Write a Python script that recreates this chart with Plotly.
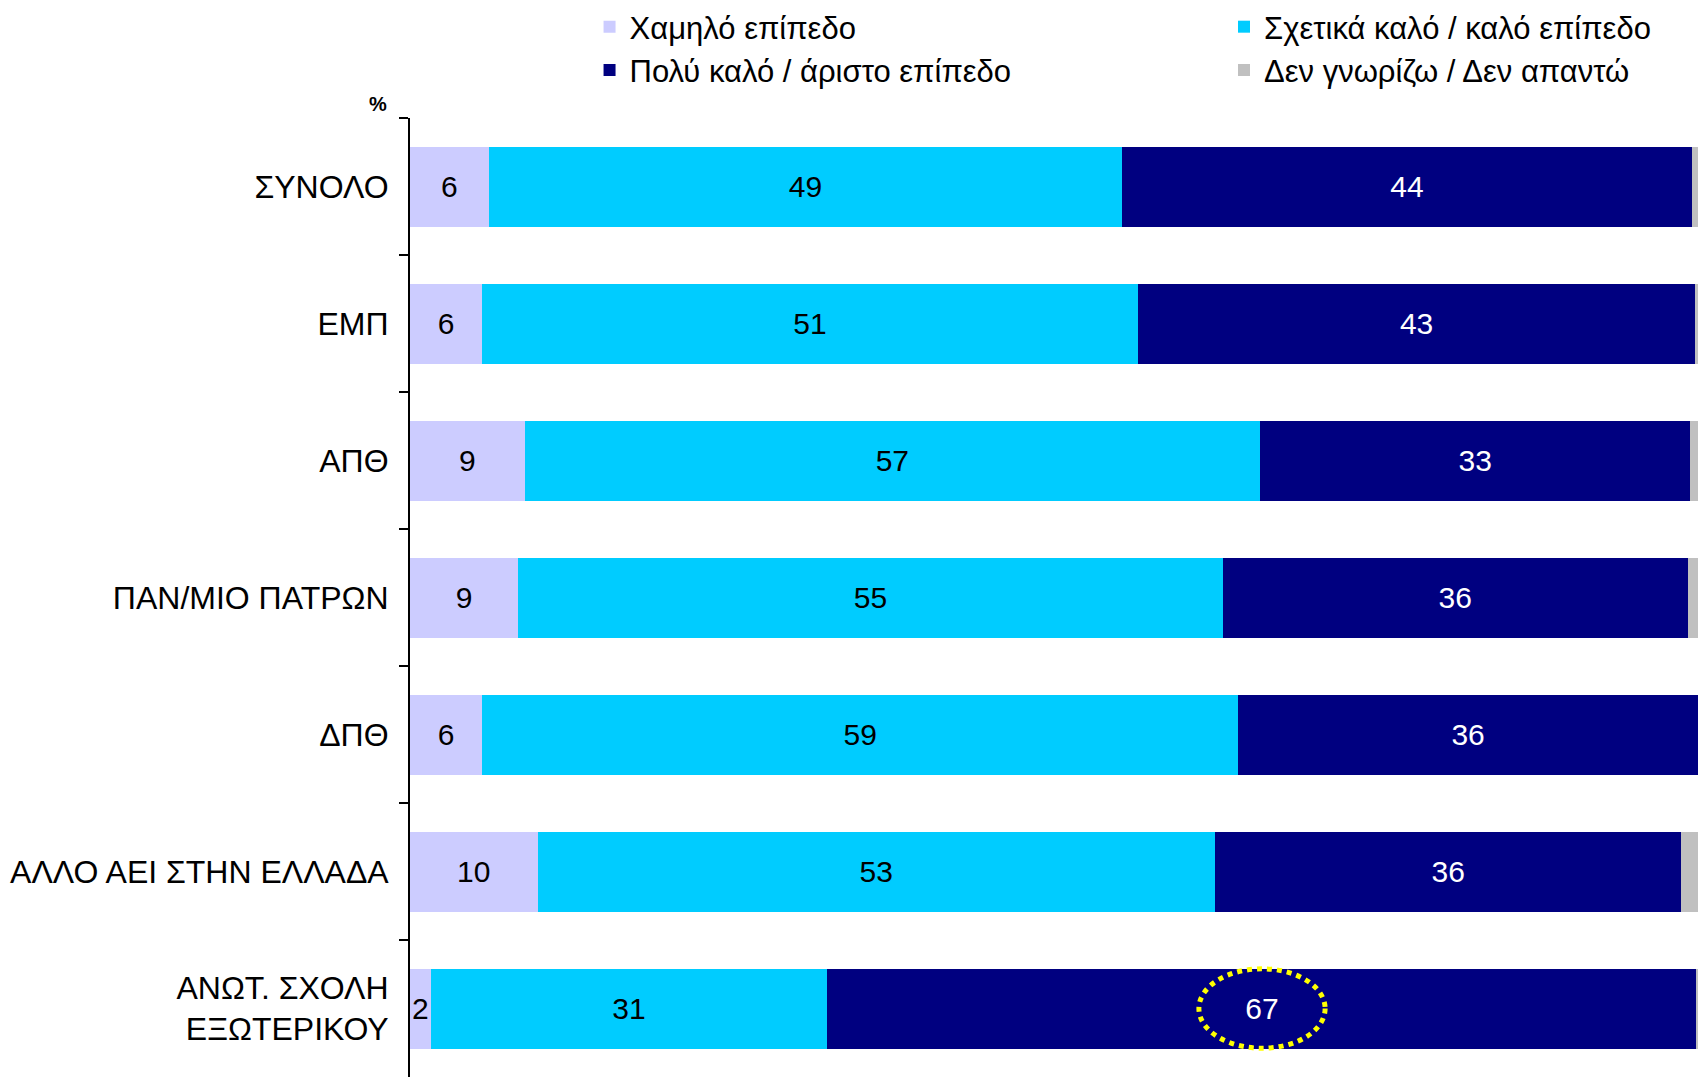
import plotly.graph_objects as go

categories = ["ΣΥΝΟΛΟ", "ΕΜΠ", "ΑΠΘ", "ΠΑΝ/ΜΙΟ ΠΑΤΡΩΝ", "ΔΠΘ",
              "ΑΛΛΟ ΑΕΙ ΣΤΗΝ ΕΛΛΑΔΑ", "ΑΝΩΤ. ΣΧΟΛΗ<br>ΕΞΩΤΕΡΙΚΟΥ"]

series_names = ["Χαμηλό επίπεδο", "Σχετικά καλό / καλό επίπεδο",
                "Πολύ καλό / άριστο επίπεδο", "Δεν γνωρίζω / Δεν απαντώ"]

low = [6.1, 5.6, 8.9, 8.4, 5.6, 9.9, 1.6]
fair = [49.2, 50.9, 57.1, 54.7, 58.7, 52.6, 30.8]
high = [44.2, 43.3, 33.4, 36.1, 35.7, 36.2, 67.5]
dk = [0.5, 0.2, 0.6, 0.8, 0.0, 1.3, 0.1]

low_labels = ["6", "6", "9", "9", "6", "10", "2"]
fair_labels = ["49", "51", "57", "55", "59", "53", "31"]
high_labels = ["44", "43", "33", "36", "36", "36", "67"]

colors = ["#CCCCFF", "#00CCFF", "#000080", "#C0C0C0"]
FONT = "Liberation Sans, Arial, sans-serif"

fig = go.Figure()
specs = [
    (low, low_labels, colors[0], "black", "legend"),
    (fair, fair_labels, colors[1], "black", "legend2"),
    (high, high_labels, colors[2], "white", "legend"),
    (dk, [""] * len(dk), colors[3], "black", "legend2"),
]
for name, (vals, labels, col, tcol, lg) in zip(series_names, specs):
    fig.add_trace(go.Bar(
        y=categories, x=vals, name=name, orientation="h",
        marker=dict(color=col, line=dict(width=0)),
        text=labels, textposition="inside", insidetextanchor="middle",
        textangle=0, constraintext="none",
        textfont=dict(family=FONT, size=30, color=tcol),
        legend=lg, hoverinfo="skip",
    ))

# highlight ellipse around the last row's top-level segment
last = len(categories) - 1
cx = low[last] + fair[last] + high[last] / 2
fig.add_shape(type="circle", xref="x", yref="y",
              x0=cx - 4.9, x1=cx + 4.9, y0=last - 0.29, y1=last + 0.29,
              line=dict(color="#FFFF00", width=5, dash="dot"),
              fillcolor="rgba(0,0,0,0)")

fig.add_annotation(text="<b>%</b>", xref="paper", yref="paper",
                   x=-0.0248, y=1.0146, xanchor="center", yanchor="middle",
                   showarrow=False,
                   font=dict(family=FONT, size=20, color="black"))

legend_common = dict(orientation="v", traceorder="normal",
                     font=dict(family=FONT, size=31, color="black"),
                     bgcolor="rgba(0,0,0,0)", yanchor="top", xanchor="left",
                     borderwidth=0)

fig.update_layout(
    width=1698, height=1077,
    barmode="stack", bargap=0.416,
    plot_bgcolor="white", paper_bgcolor="white",
    margin=dict(l=410, r=0, t=118, b=0, autoexpand=False),
    font=dict(family=FONT, color="black"),
    showlegend=True,
    legend=dict(x=0.1394, y=1.123, **legend_common),
    legend2=dict(x=0.632, y=1.123, **legend_common),
    xaxis=dict(range=[0, 100], visible=False, showgrid=False),
    yaxis=dict(type="category", categoryorder="array", categoryarray=categories,
               autorange="reversed", showgrid=False, showline=True,
               linecolor="black", linewidth=2, ticks="outside",
               tickson="boundaries", ticklen=9, tickwidth=2, tickcolor="black",
               ticklabelstandoff=13,
               tickfont=dict(family=FONT, size=32, color="black")),
)

fig.write_html("out.html", config={"displayModeBar": False},
               post_script="document.body.style.margin='0';document.body.style.overflow='hidden';")
